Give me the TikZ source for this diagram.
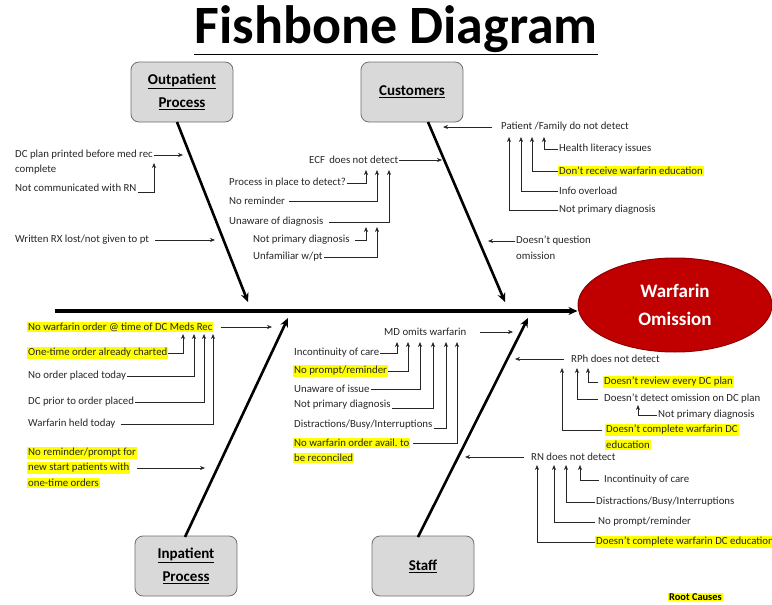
\documentclass[tikz,border=0pt]{standalone}
\usepackage{fontspec}
\setmainfont{Carlito}
\usetikzlibrary{arrows.meta,shapes.geometric}
\definecolor{hly}{HTML}{FFFF00}
\definecolor{boxfill}{HTML}{D9D9D9}
\definecolor{boxline}{HTML}{6F6F6F}
\definecolor{effred}{HTML}{C00000}
\definecolor{effline}{HTML}{8E0000}
\definecolor{txtc}{HTML}{262626}
\tikzset{
  lbl/.style={anchor=west,inner sep=1pt,font=\fontsize{10.8}{12}\selectfont,text=txtc},
  hl/.style={lbl,fill=hly},
  arr/.style={-{Stealth[length=5pt,width=4pt]},line width=0.6pt,draw=txtc},
  bone/.style={line width=2.6pt,-{Stealth[length=9pt,width=8pt]}},
  catbox/.style={draw=boxline,fill=boxfill,rounded corners=8pt,minimum width=102pt,minimum height=60pt,
    font=\fontsize{15}{23}\selectfont\bfseries,align=center,line width=0.8pt},
}
\begin{document}
\begin{tikzpicture}[x=1pt,y=-1pt]
\useasboundingbox (0,0) rectangle (772,605);
% title
\node[font=\fontsize{54}{58}\selectfont\bfseries] (title) at (396,30) {\underline{Fishbone Diagram}};
% effect
\node[ellipse,fill=effred,draw=effline,line width=1pt,minimum width=194pt,minimum height=94pt,
  font=\fontsize{19}{28}\selectfont\bfseries,text=white,align=center] (wo) at (675,305) {Warfarin\\Omission};
% spine
\coordinate (sp0) at (55,311);
\draw[line width=3.2pt,-{Stealth[length=9pt,width=8pt]}] (sp0) -- (sp0 -| wo.west);
% category boxes
\node[catbox] (outp) at (182,92) {\underline{Outpatient}\\\underline{Process}};
\node[catbox] (cust) at (412,92) {\underline{Customers}};
\node[catbox] (inp) at (186,566) {\underline{Inpatient}\\\underline{Process}};
\node[catbox] (staff) at (423,566) {\underline{Staff}};
% bones
\coordinate (b1) at (248,302);
\coordinate (b2) at (505,302);
\coordinate (b3) at (288,318);
\coordinate (b4) at (528,318);
\draw[bone] (177,122) -- (b1);
\draw[bone] (428,122) -- (b2);
\draw[bone] (185,537) -- (b3);
\draw[bone] (418,537) -- (b4);

% ---------- Outpatient ----------
\node[lbl] (op1a) at (14,155) {DC plan printed before med rec};
\node[lbl] (op1b) at (14,170) {complete};
\node[lbl] (op2) at (14,188) {Not communicated with RN};
\node[lbl] (op3) at (14,240) {Written RX lost/not given to pt};
\coordinate (opt1) at (183,155);
\coordinate (opu) at (154,163);
\coordinate (opt3) at (215,240);
\draw[arr] (op1a.east) -- (opt1);
\draw[arr] ([yshift=-4pt]op2.east) -| (opu);
\draw[arr] ([xshift=5pt]op3.east) -- (opt3);

% ---------- Customers left ----------
\node[lbl] (ecf) at (308,160) {ECF\, does not detect};
\coordinate (ect) at (442,160);
\draw[arr] (ecf.east) -- (ect);
\coordinate (c1) at (366,170);
\coordinate (c2) at (377,170);
\coordinate (c3) at (389,170);
\coordinate (c4) at (366,227);
\coordinate (c5) at (377,227);
\node[lbl] (cl1) at (228,183) {Process in place to detect?};
\node[lbl] (cl2) at (228,201) {No reminder};
\node[lbl] (cl3) at (228,222) {Unaware of diagnosis};
\node[lbl] (cl4) at (252,240) {Not primary diagnosis};
\node[lbl] (cl5) at (252,257) {Unfamiliar w/pt};
\draw[arr] (cl1.east) -| (c1);
\draw[arr] ([xshift=3pt]cl2.east) -| (c2);
\draw[arr] ([xshift=5pt]cl3.east) -| (c3);
\draw[arr] ([xshift=4pt]cl4.east) -| (c4);
\draw[arr] (cl5.east) -| (c5);

% ---------- Customers right ----------
\node[lbl] (pf) at (500,127) {Patient /Family do not detect};
\coordinate (pft) at (443,127);
\draw[arr] ([xshift=-8pt]pf.west) -- (pft);
\coordinate (p1) at (509,137);
\coordinate (p2) at (521,137);
\coordinate (p3) at (532,137);
\coordinate (p4) at (544,137);
\node[lbl] (pr1) at (558,149) {Health literacy issues};
\node[hl] (pr2) at (558,171) {Don’t receive warfarin education};
\node[lbl] (pr3) at (558,191) {Info overload};
\node[lbl] (pr4) at (558,210) {Not primary diagnosis};
\draw[arr] (pr1.west) -| (p4);
\draw[arr] (pr2.west) -| (p3);
\draw[arr] (pr3.west) -| (p2);
\draw[arr] (pr4.west) -| (p1);
\node[lbl] (dq1) at (515,241) {Doesn’t question};
\node[lbl] (dq2) at (515,256) {omission};
\coordinate (dqt) at (488,241);
\draw[arr] (dq1.west) -- (dqt);

% ---------- Inpatient ----------
\node[hl] (ip1) at (27,327) {No warfarin order @ time of DC Meds Rec};
\coordinate (ipt) at (272,327);
\draw[arr] ([xshift=7pt]ip1.east) -- (ipt);
\coordinate (i1) at (183,334);
\coordinate (i2) at (194,334);
\coordinate (i3) at (204,334);
\coordinate (i4) at (213,334);
\node[hl] (ip2) at (27,353) {One-time order already charted};
\node[lbl] (ip3) at (27,376) {No order placed today};
\node[lbl] (ip4) at (27,402) {DC prior to order placed};
\node[lbl] (ip5) at (27,424) {Warfarin held today};
\draw[arr] (ip2.east) -| (i1);
\draw[arr] (ip3.east) -| (i2);
\draw[arr] (ip4.east) -| (i3);
\draw[arr] ([xshift=4pt]ip5.east) -| (i4);
\node[hl] (ip6a) at (27,453) {No reminder/prompt for};
\node[hl] (ip6b) at (27,468) {new start patients with};
\node[hl] (ip6c) at (27,483) {one-time orders};
\coordinate (ip6t) at (205,468);
\draw[arr] ([xshift=6pt]ip6b.east) -- (ip6t);

% ---------- Staff: MD ----------
\node[lbl] (md) at (383,332) {MD omits warfarin};
\coordinate (mdt) at (513,332);
\draw[arr] ([xshift=12pt]md.east) -- (mdt);
\coordinate (m1) at (397,342);
\coordinate (m2) at (408,342);
\coordinate (m3) at (420,342);
\coordinate (m4) at (433,342);
\coordinate (m5) at (446,342);
\coordinate (m6) at (457,342);
\node[lbl] (ml1) at (293,353) {Incontinuity of care};
\node[hl] (ml2) at (293,371) {No prompt/reminder};
\node[lbl] (ml3) at (293,389) {Unaware of issue};
\node[lbl] (ml4) at (293,405) {Not primary diagnosis};
\node[lbl] (ml5) at (293,425) {Distractions/Busy/Interruptions};
\node[hl] (ml6a) at (293,443) {No warfarin order avail.\ to};
\node[hl] (ml6b) at (293,458) {be reconciled};
\draw[arr] (ml1.east) -| (m1);
\draw[arr] (ml2.east) -| (m2);
\draw[arr] (ml3.east) -| (m3);
\draw[arr] ([yshift=-3pt]ml4.east) -| (m4);
\draw[arr] ([yshift=-3pt]ml5.east) -| (m5);
\draw[arr] ([xshift=3pt]ml6a.east) -| (m6);

% ---------- Staff: RPh ----------
\node[lbl] (rph) at (570,359) {RPh does not detect};
\coordinate (rpt) at (515,359);
\draw[arr] ([xshift=-6pt]rph.west) -- (rpt);
\coordinate (r1) at (562,368);
\coordinate (r2) at (577,368);
\coordinate (r3) at (588,368);
\coordinate (r4) at (638,405);
\node[hl] (rl1) at (603,382) {Doesn’t review every DC plan};
\node[lbl] (rl2) at (603,399) {Doesn’t detect omission on DC plan};
\node[lbl] (rl3) at (657,415) {Not primary diagnosis};
\node[hl] (rl4a) at (605,430) {Doesn’t complete warfarin DC};
\node[hl] (rl4b) at (605,445) {education};
\draw[arr] ([xshift=-5pt]rl1.west) -| (r3);
\draw[arr] ([xshift=-5pt]rl2.west) -| (r2);
\draw[arr] (rl3.west) -| (r4);
\draw[arr] ([xshift=-3pt]rl4a.west) -| (r1);

% ---------- Staff: RN ----------
\node[lbl] (rn) at (530,457) {RN does not detect};
\coordinate (rnt) at (465,457);
\draw[arr] ([xshift=-6pt]rn.west) -- (rnt);
\coordinate (n1) at (537,465);
\coordinate (n2) at (554,465);
\coordinate (n3) at (566,465);
\coordinate (n4) at (580,465);
\node[lbl] (nl1) at (603,480) {Incontinuity of care};
\node[lbl] (nl2) at (595,502) {Distractions/Busy/Interruptions};
\node[lbl] (nl3) at (597,522) {No prompt/reminder};
\node[hl] (nl4) at (595,542) {Doesn’t complete warfarin DC education};
\draw[arr] ([xshift=-4pt]nl1.west) -| (n4);
\draw[arr] (nl2.west) -| (n3);
\draw[arr] ([xshift=-2pt]nl3.west) -| (n2);
\draw[arr] (nl4.west) -| (n1);

% root causes
\node[hl,font=\fontsize{10.4}{12}\selectfont\bfseries,text=black] (rc) at (668,597) {Root Causes};
\end{tikzpicture}
\end{document}
